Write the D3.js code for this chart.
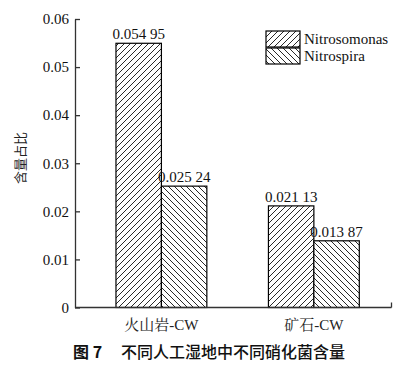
<!DOCTYPE html>
<html><head><meta charset="utf-8">
<script src="https://cdn.jsdelivr.net/npm/d3@7"></script>
<style>body{margin:0;background:#fff}svg{display:block}</style>
</head><body>
<svg id="c" width="420" height="369"></svg>
<script>
const categories = ["火山岩-CW", "矿石-CW"];
const seriesNames = ["Nitrosomonas", "Nitrospira"];
const nitrosomonas = [0.05495, 0.02113];
const nitrospira = [0.02524, 0.01387];
const yTicks = [0, 0.01, 0.02, 0.03, 0.04, 0.05, 0.06];
const yTickLabels = ["0", "0.01", "0.02", "0.03", "0.04", "0.05", "0.06"];
const yTitle = "含量占比";
const caption = ["图 7", "不同人工湿地中不同硝化菌含量"];

const svg = d3.select("#c");
const serif = "'Liberation Serif','Times New Roman','Noto Serif CJK SC','Noto Sans CJK SC',serif";
const pLeft = 75, pRight = 391.5, pTop = 19, pBottom = 307.5;

const defs = svg.append("defs");
function hatch(id, dir) {
  const p = defs.append("pattern").attr("id", id).attr("patternUnits", "userSpaceOnUse")
    .attr("width", 6).attr("height", 6);
  p.append("rect").attr("width", 6).attr("height", 6).attr("fill", "#fff");
  const d = dir > 0 ? "M-1,1 l2,-2 M0,6 l6,-6 M5,7 l2,-2" : "M-1,5 l2,2 M0,0 l6,6 M5,-1 l2,2";
  p.append("path").attr("d", d).attr("stroke", "#111").attr("stroke-width", 0.9);
}
hatch("h1", 1);
hatch("h2", -1);
const fills = ["url(#h1)", "url(#h2)"];

const x0 = d3.scaleBand().domain(categories).range([pLeft, pRight])
  .paddingInner(0.404).paddingOuter(0.24).align(0.56);
const x1 = d3.scaleBand().domain(seriesNames).range([0, x0.bandwidth()]);
const y = d3.scaleLinear().domain([0, 0.06]).range([pBottom, pTop]);

const series = [nitrosomonas, nitrospira];
const fmt = v => { const s = v.toFixed(5); return s.slice(0, 5) + " " + s.slice(5); };

categories.forEach((c, i) => {
  series.forEach((vals, j) => {
    const v = vals[i];
    const bx = x0(c) + x1(seriesNames[j]);
    svg.append("rect").attr("x", bx).attr("y", y(v))
      .attr("width", x1.bandwidth()).attr("height", y(0) - y(v))
      .attr("fill", fills[j]).attr("stroke", "#000").attr("stroke-width", 1.2);
    svg.append("text").attr("x", bx + x1.bandwidth() / 2).attr("y", y(v) - 4)
      .attr("text-anchor", "middle").attr("font-family", serif).attr("font-size", 15)
      .attr("fill", "#111").text(fmt(v));
  });
});

// y axis
const yAxis = d3.axisLeft(y).tickValues(yTicks).tickSizeInner(-5).tickSizeOuter(0)
  .tickFormat((d, i) => yTickLabels[i]).tickPadding(6);
const gy = svg.append("g").attr("transform", `translate(${pLeft},0)`).call(yAxis);
gy.selectAll("text").attr("font-family", serif).attr("font-size", 15).attr("fill", "#111");
gy.selectAll("line,path").attr("stroke", "#333").attr("stroke-width", 1.3);

// x axis
const gx = svg.append("g").attr("transform", `translate(0,${pBottom})`)
  .call(d3.axisBottom(x0).tickSize(0).tickPadding(9));
gx.select("path").remove();
gx.append("line").attr("x1", pLeft).attr("x2", pRight).attr("stroke", "#333").attr("stroke-width", 1.3);
gx.append("line").attr("x1", pRight).attr("x2", pRight).attr("y1", 0).attr("y2", -5)
  .attr("stroke", "#333").attr("stroke-width", 1.3);
gx.selectAll(".tick text").attr("font-family", serif).attr("font-size", 15).attr("fill", "#222")
  .attr("dy", "0.9em");

// y title
svg.append("text").attr("transform", "translate(25,158) rotate(-90)")
  .attr("text-anchor", "middle").attr("font-family", "'Noto Sans CJK SC',sans-serif")
  .attr("font-size", 13).attr("fill", "#222").text(yTitle);

// legend
const lg = svg.append("g").attr("transform", "translate(266,31)");
seriesNames.forEach((n, i) => {
  lg.append("rect").attr("x", 0).attr("y", i * 17).attr("width", 34).attr("height", 16)
    .attr("fill", fills[i]).attr("stroke", "#000").attr("stroke-width", 1.2);
  lg.append("text").attr("x", 38).attr("y", i * 17 + 13).attr("font-family", serif)
    .attr("font-size", 15).attr("fill", "#111").text(n);
});

// caption
const cap = svg.append("text").attr("x", 73).attr("y", 358)
  .attr("font-family", "'Noto Sans CJK SC',sans-serif").attr("font-size", 16).attr("fill", "#111");
cap.append("tspan").attr("font-weight", "bold").text(caption[0]);
cap.append("tspan").attr("dx", 19).attr("font-weight", 500).text(caption[1]);
</script>
</body></html>
